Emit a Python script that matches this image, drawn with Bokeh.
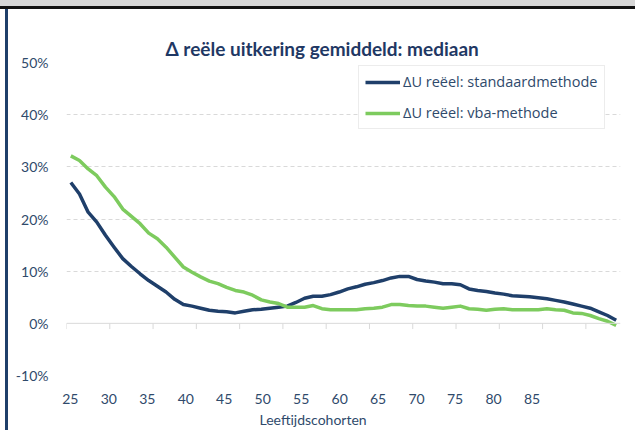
from bokeh.plotting import figure
from bokeh.models import (Range1d, LinearAxis, FixedTicker, Span, Title, Legend,
                          PrintfTickFormatter)
from bokeh.embed import file_html
from bokeh.resources import INLINE

# ---- data ----
ages = list(range(25, 89))
standaard = [27.0, 24.8, 21.3, 19.4, 16.9, 14.6, 12.4, 10.9, 9.5, 8.2,
             7.1, 6.0, 4.6, 3.6, 3.3, 2.9, 2.5, 2.3, 2.2, 2.0,
             2.3, 2.6, 2.7, 2.9, 3.1, 3.3, 4.0, 4.8, 5.2, 5.2,
             5.5, 6.0, 6.6, 7.0, 7.5, 7.8, 8.2, 8.7, 9.0, 9.0,
             8.4, 8.1, 7.9, 7.6, 7.6, 7.4, 6.6, 6.3, 6.1, 5.8,
             5.6, 5.3, 5.2, 5.1, 4.9, 4.7, 4.4, 4.1, 3.7, 3.3,
             2.9, 2.2, 1.5, 0.6]
vba = [32.1, 31.2, 29.6, 28.3, 26.1, 24.3, 21.9, 20.5, 19.1, 17.3,
       16.2, 14.6, 12.7, 10.8, 9.8, 8.9, 8.1, 7.6, 6.9, 6.3,
       6.0, 5.4, 4.5, 4.1, 3.8, 3.1, 3.1, 3.1, 3.4, 2.8,
       2.6, 2.6, 2.6, 2.6, 2.8, 2.9, 3.1, 3.6, 3.6, 3.4,
       3.3, 3.3, 3.1, 2.9, 3.1, 3.3, 2.8, 2.7, 2.5, 2.7,
       2.8, 2.6, 2.6, 2.6, 2.6, 2.8, 2.6, 2.5, 2.0, 1.9,
       1.5, 0.9, 0.4, -0.4]
x_tick_labels = [25, 30, 35, 40, 45, 50, 55, 60, 65, 70, 75, 80, 85]
label_categories = list(range(25, 97))   # category axis used for the labels
y_ticks = [-10, 0, 10, 20, 30, 40, 50]
title_text = "\u0394 re\u00eble uitkering gemiddeld: mediaan"
x_title = "Leeftijdscohorten"
name_std = "\u0394U re\u00ebel: standaardmethode"
name_vba = "\u0394U re\u00ebel: vba-methode"

NAVY = "#1F3F6A"
GREEN = "#7DCB5E"
TXT = "#2F4A6B"
GRID = "#D9D9D9"
FONT = "Lato"

p = figure(width=635, height=430, output_backend="svg", toolbar_location=None,
           x_range=Range1d(ages[0] - 0.5, ages[-1] + 0.5),
           y_range=Range1d(y_ticks[0], y_ticks[-1]),
           min_border_left=66, min_border_right=15, min_border_top=62,
           min_border_bottom=54, outline_line_color=None,
           background_fill_color="white", border_fill_color=None)
p.title = None
p.styles = {
    "background-image": (
        "linear-gradient(to bottom, #D6D6D6 0px, #D6D6D6 6px, #111111 6px, #111111 9px, "
        "rgba(255,255,255,0) 9px), "
        "linear-gradient(to right, rgba(255,255,255,0) 5px, " + NAVY + " 5px, " + NAVY +
        " 8px, rgba(255,255,255,0) 8px)"),
    "background-repeat": "no-repeat",
    "background-color": "white",
    "vertical-align": "top",
}

p.extra_x_ranges = {"lbl": Range1d(label_categories[0] - 0.5, label_categories[-1] + 0.5)}

p.xaxis.visible = False
xa = LinearAxis(x_range_name="lbl", ticker=FixedTicker(ticks=x_tick_labels),
                axis_line_color=None, major_tick_line_color=None,
                minor_tick_line_color=None, major_label_standoff=12,
                major_label_text_font=FONT, major_label_text_font_size="14px",
                major_label_text_color=TXT)
p.add_layout(xa, "below")

ya = p.yaxis[0]
ya.ticker = FixedTicker(ticks=y_ticks)
ya.formatter = PrintfTickFormatter(format="%d%%")
ya.axis_line_color = None
ya.major_tick_line_color = None
ya.minor_tick_line_color = None
ya.major_label_standoff = 12
ya.major_label_text_font = FONT
ya.major_label_text_font_size = "14px"
ya.major_label_text_color = TXT

p.xgrid.visible = False
p.ygrid.ticker = FixedTicker(ticks=[t for t in y_ticks if t != 0])
p.ygrid.grid_line_color = GRID
p.ygrid.grid_line_dash = "4 3"
p.ygrid.grid_line_width = 1

# zero axis line with category tick marks
p.add_layout(Span(location=0, dimension="width", line_color=GRID, line_width=1))
bounds = [a - 0.5 for a in ages[::5]]
p.segment(x0=bounds, x1=bounds, y0=[0] * len(bounds), y1=[-1.1] * len(bounds),
          line_color=GRID, line_width=1)

r1 = p.line(ages, standaard, line_color=NAVY, line_width=3.5, line_join="round")
r2 = p.line(ages, vba, line_color=GREEN, line_width=3.5, line_join="round")

legend = Legend(items=[(name_std, [r1]), (name_vba, [r2])], location=(292, 246),
                label_text_font="Open Sans", label_text_font_size="14.5px",
                label_text_color=TXT, glyph_width=35, glyph_height=16,
                label_height=16, label_standoff=3, spacing=12, padding=6,
                border_line_color=GRID, border_line_width=1,
                background_fill_color="white", background_fill_alpha=1)
p.add_layout(legend, "center")

t = Title(text=title_text, align="left", offset=99, text_font=FONT,
          text_font_size="19px", text_font_style="bold", text_color="#1F3864",
          standoff=6)
p.add_layout(t, "above")

xt = Title(text=x_title, align="left", offset=193, text_font=FONT,
           text_font_size="14px", text_font_style="normal", text_color=TXT,
           standoff=5)
p.add_layout(xt, "below")

open("out.html", "w").write(file_html(p, INLINE))
